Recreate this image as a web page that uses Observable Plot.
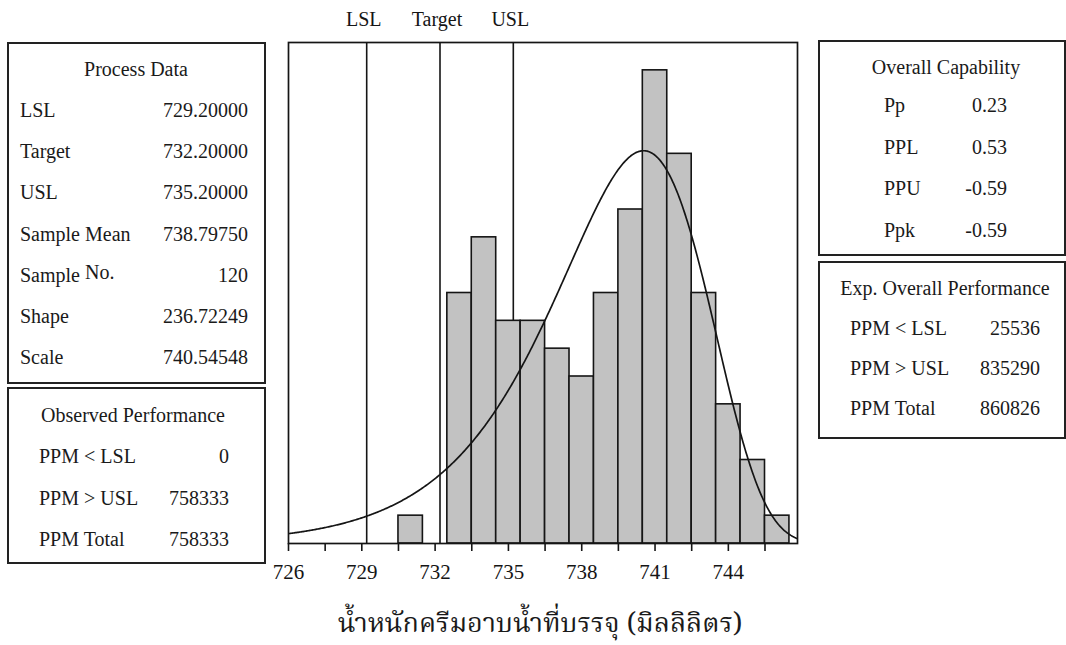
<!DOCTYPE html>
<html>
<head>
<meta charset="utf-8">
<script src="https://cdn.jsdelivr.net/npm/d3@7"></script>
<script src="https://cdn.jsdelivr.net/npm/@observablehq/plot@0.6"></script>
<style>
  html, body { margin: 0; padding: 0; background: #fff; }
  #page { position: relative; width: 1066px; height: 645px; overflow: hidden; background: #fff;
          font-family: "Liberation Serif", "DejaVu Serif", serif; color: #1a1a1a; }
  #chart { position: absolute; left: 0; top: 0; }
  .panel { position: absolute; border: 2px solid #222; box-sizing: border-box; }
  .t { position: absolute; font-size: 20px; line-height: 1; white-space: nowrap; }
  .xtitle { position: absolute; font-size: 27px; line-height: 1; white-space: nowrap;
            font-family: "Noto Serif Thai", "Noto Sans Thai", "Norasi", "Loma", "Garuda", serif; }
</style>
</head>
<body>
<div id="page"></div>
<script>
// Histogram of filled weight (ml): unit-width bins centred on whole numbers
const binCenters = [731, 733, 734, 735, 736, 737, 738, 739, 740, 741, 742, 743, 744, 745, 746];
const binCounts  = [1, 9, 11, 8, 8, 7, 6, 9, 12, 17, 14, 9, 5, 3, 1];

// Specification limits
const specNames  = ["LSL", "Target", "USL"];
const specValues = [729.2, 732.2, 735.2];

// Axis ticks
const tickLabels = [726, 729, 732, 735, 738, 741, 744];
const minorTicks = [726, 727.5, 729, 730.5, 732, 733.5, 735, 736.5, 738, 739.5, 741, 742.5, 744, 745.5];

// Fitted Weibull distribution
const weibullShape = 236.72249;
const weibullScale = 740.54548;
const sampleSize = 120;

// Summary tables
const processLabels = ["LSL", "Target", "USL", "Sample Mean", "Sample No.", "Shape", "Scale"];
const processValues = ["729.20000", "732.20000", "735.20000", "738.79750", "120", "236.72249", "740.54548"];
const observedLabels = ["PPM < LSL", "PPM > USL", "PPM Total"];
const observedValues = ["0", "758333", "758333"];
const capabilityLabels = ["Pp", "PPL", "PPU", "Ppk"];
const capabilityValues = ["0.23", "0.53", "-0.59", "-0.59"];
const expectedLabels = ["PPM < LSL", "PPM > USL", "PPM Total"];
const expectedValues = ["25536", "835290", "860826"];
const axisTitle = "น้ำหนักครีมอาบน้ำที่บรรจุ (มิลลิลิตร)";

const W = 1066, H = 645;
const xDomain = [726, 746.83];

const bins = binCenters.map((c, i) => ({x1: c - 0.5, x2: c + 0.5, count: binCounts[i]}));
const specs = specValues.map((v, i) => ({value: v, name: specNames[i]}));

// Weibull density scaled to expected counts per unit-width bin
const k = weibullShape, lam = weibullScale;
const curve = d3.range(xDomain[0], xDomain[1] + 0.001, 0.04).map(x => {
  const z = x / lam;
  const pdf = (k / lam) * Math.pow(z, k - 1) * Math.exp(-Math.pow(z, k));
  return {x, y: pdf * sampleSize};
});

const ink = "#151515";

const chart = Plot.plot({
  width: W,
  height: H,
  marginLeft: 288,
  marginRight: W - 797,
  marginTop: 42,
  marginBottom: H - 543,
  x: {domain: xDomain},
  y: {domain: [0, 18], axis: null},
  style: {fontFamily: "'Liberation Serif', 'DejaVu Serif', serif", fontSize: "20px", color: ink, background: "transparent"},
  marks: [
    Plot.ruleX(specs, {x: "value", stroke: ink, strokeWidth: 1.6}),
    Plot.rectY(bins, {x1: "x1", x2: "x2", y: "count", fill: "#c2c2c2", stroke: ink, strokeWidth: 1.6}),
    Plot.line(curve, {x: "x", y: "y", stroke: ink, strokeWidth: 1.7, curve: "linear", clip: true}),
    Plot.frame({stroke: ink, strokeWidth: 1.7}),
    Plot.text(specs, {x: "value", text: "name", frameAnchor: "top", dy: -23, dx: -3, lineAnchor: "middle",
                      fontSize: 20, fill: ink}),
    Plot.axisX(minorTicks, {tickSize: 8, tickFormat: () => "", strokeWidth: 1.6, stroke: ink}),
    Plot.axisX(tickLabels, {tickSize: 0, tickPadding: 21, fontSize: 21, fill: ink, tickFormat: d => String(d)})
  ]
});
chart.id = "chart";
const page = document.getElementById("page");
page.appendChild(chart);

function addText(txt, x, y, align, extraClass) {
  const el = document.createElement("div");
  el.className = extraClass || "t";
  el.style.left = x + "px";
  el.style.top = y + "px";
  const tx = align === "right" ? "-100%" : align === "center" ? "-50%" : "0";
  el.style.transform = `translate(${tx}, -50%)`;
  if (txt === "Sample No.") {
    el.innerHTML = 'Sample <span style="position:relative;top:-3px">No.</span>';
  } else {
    el.textContent = txt;
  }
  page.appendChild(el);
  return el;
}

function panel(p) {
  const box = document.createElement("div");
  box.className = "panel";
  Object.assign(box.style, {left: p.left + "px", top: p.top + "px", width: p.width + "px", height: p.height + "px"});
  page.appendChild(box);
  addText(p.title, p.titleX, p.titleY, "center");
  p.labels.forEach((lab, i) => {
    const y = p.rowY0 + i * p.rowStep;
    addText(lab, p.labelX, y, "left");
    addText(p.values[i], p.valueRight, y, "right");
  });
}

panel({left: 7, top: 42, width: 259, height: 342, title: "Process Data", titleX: 136, titleY: 69,
       labels: processLabels, values: processValues, labelX: 20, valueRight: 248, rowY0: 110, rowStep: 41.2});
panel({left: 7, top: 387, width: 259, height: 177, title: "Observed Performance", titleX: 133, titleY: 415,
       labels: observedLabels, values: observedValues, labelX: 39, valueRight: 229, rowY0: 456, rowStep: 41.5});
panel({left: 818, top: 40, width: 248, height: 216, title: "Overall Capability", titleX: 946, titleY: 67,
       labels: capabilityLabels, values: capabilityValues, labelX: 884, valueRight: 1007, rowY0: 105, rowStep: 41.5});
panel({left: 818, top: 261, width: 248, height: 178, title: "Exp. Overall Performance", titleX: 945, titleY: 288,
       labels: expectedLabels, values: expectedValues, labelX: 850, valueRight: 1040, rowY0: 328, rowStep: 40});

addText(axisTitle, 540, 624, "center", "xtitle");
</script>
</body>
</html>
